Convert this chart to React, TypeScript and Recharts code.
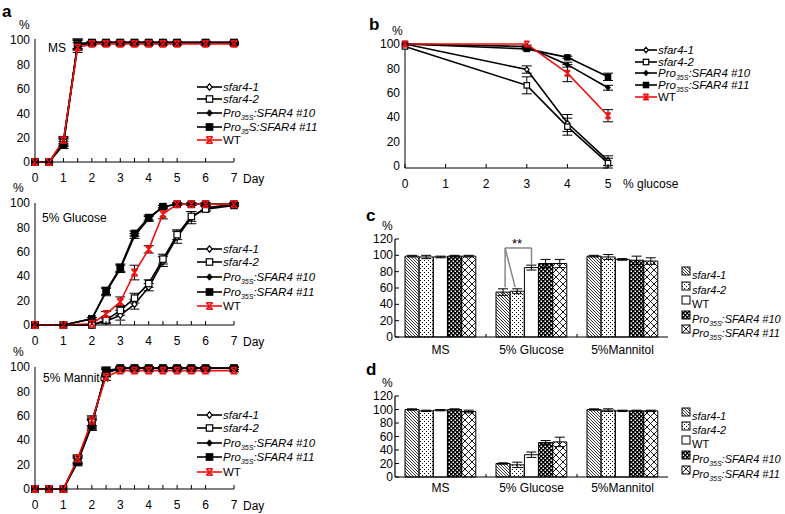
import React from 'react';
import { LineChart, Line, XAxis, YAxis, ErrorBar, BarChart, Bar, Cell, ReferenceLine, ReferenceDot } from 'recharts';

const FONT = '"Liberation Sans", Arial, Helvetica, sans-serif';
const RED = '#f01010';

// a: germination time course on MS
const msDays = [0, 0.5, 1, 1.5, 2, 2.5, 3, 3.5, 4, 4.5, 5, 6, 7];
const msSfar1 = [0, 0, 17, 97, 98, 98, 98, 98, 98, 98, 98, 98, 98];
const msSfar2 = [0, 0, 16, 97, 98, 98, 98, 98, 98, 98, 98, 98, 98];
const msPro10 = [0, 0, 16, 96, 98, 98, 98, 98, 98, 98, 98, 98, 98];
const msPro11 = [0, 0, 14, 96, 98, 98, 98, 98, 98, 98, 98, 98, 98];
const msWT = [0, 0, 18, 94, 97, 97, 97, 97, 97, 97, 97, 97, 97];
const msErr = [0, 0, 3, 4, 1, 1, 1, 1, 1, 1, 1, 1, 1];

// a: 5% glucose
const glDays = [0, 1, 2, 2.5, 3, 3.5, 4, 4.5, 5, 5.5, 6, 7];
const glSfar1 = [0, 0, 0, 3, 8, 17, 31, 52, 72, 88, 96, 99];
const glSfar1Err = [0, 0, 0, 2, 4, 4, 3, 4, 5, 5, 2, 1];
const glSfar2 = [0, 0, 0, 4, 12, 22, 34, 54, 74, 89, 95, 98];
const glSfar2Err = [0, 0, 0, 2, 4, 4, 3, 4, 4, 4, 2, 1];
const glPro10 = [0, 0, 5, 27, 46, 73, 87, 97, 99, 99, 99, 99];
const glPro10Err = [0, 0, 1, 3, 3, 2, 2, 1, 1, 1, 1, 1];
const glPro11 = [0, 0, 5, 28, 47, 75, 88, 97, 99, 99, 99, 99];
const glPro11Err = [0, 0, 1, 3, 3, 2, 2, 1, 1, 1, 1, 1];
const glWT = [0, 0, 1, 9, 19, 43, 62, 91, 99, 99, 99, 99];
const glWTErr = [0, 0, 0, 2, 4, 6, 3, 4, 1, 1, 1, 1];

// a: 5% mannitol
const mnDays = [0, 0.5, 1, 1.5, 2, 2.5, 3, 3.5, 4, 4.5, 5, 5.5, 6, 7];
const mnSfar1 = [0, 0, 0, 24, 54, 95, 99, 99, 99, 99, 99, 99, 99, 99];
const mnSfar2 = [0, 0, 0, 24, 55, 95, 99, 99, 99, 99, 99, 99, 99, 99];
const mnPro10 = [0, 0, 0, 23, 53, 96, 99, 99, 99, 99, 99, 99, 99, 99];
const mnPro11 = [0, 0, 0, 22, 52, 97, 99, 99, 99, 99, 99, 99, 99, 99];
const mnWT = [0, 0, 0, 25, 56, 92, 97, 97, 97, 97, 97, 97, 97, 97];
const mnErr = [0, 0, 0, 3, 4, 3, 1, 1, 1, 1, 1, 1, 1, 1];

// b: glucose dose response
const gcConc = [0, 3, 4, 5];
const gcSfar1 = [100, 79, 35, 4];
const gcSfar1Err = [0, 3, 7, 4];
const gcSfar2 = [98, 66, 32, 2];
const gcSfar2Err = [0, 7, 7, 4];
const gcPro10 = [100, 98, 83, 64];
const gcPro10Err = [0, 1, 2, 2];
const gcPro11 = [100, 96, 89, 73];
const gcPro11Err = [0, 1, 1, 3];
const gcWT = [100, 100, 76, 41];
const gcWTErr = [0, 0, 7, 5];

// c, d: bar charts (order inside a group: sfar4-1, sfar4-2, WT, #10, #11)
const conditions = ['MS', '5% Glucose', '5%Mannitol'];
const cSfar1 = [99, 55, 99];
const cSfar1Err = [1, 4, 1];
const cSfar2 = [98, 56, 98];
const cSfar2Err = [2, 3, 3];
const cWT = [98, 85, 95];
const cWTErr = [1, 3, 1];
const cPro10 = [99, 90, 94];
const cPro10Err = [1, 5, 5];
const cPro11 = [99, 90, 93];
const cPro11Err = [1, 5, 4];

const dSfar1 = [100, 20, 100];
const dSfar1Err = [1, 1, 1];
const dSfar2 = [98, 18, 99];
const dSfar2Err = [1, 4, 2];
const dWT = [99, 33, 98];
const dWTErr = [1, 4, 1];
const dPro10 = [100, 51, 98];
const dPro10Err = [1, 3, 1];
const dPro11 = [97, 52, 98];
const dPro11Err = [2, 7, 1];

type Row = Record<string, number | string>;
function buildRows(xs: number[], series: [string, number[], number[]][]): Row[] {
  return xs.map((x, i) => {
    const r: Row = { x };
    series.forEach(([k, v, e]) => {
      r[k] = v[i];
      r[k + 'Err'] = e[i];
    });
    return r;
  });
}

// each bar sits in its slot of the condition group (slot width in category units)
const SLOT = 0.156;
function barRows(vals: number[][], errs: number[][]) {
  return conditions.flatMap((_, i) => vals.map((v, j) => ({ x: i + (j - 2) * SLOT, v: v[i], e: errs[j][i], g: j })));
}

const msData = buildRows(msDays, [['s1', msSfar1, msErr], ['s2', msSfar2, msErr], ['p10', msPro10, msErr], ['p11', msPro11, msErr], ['wt', msWT, msErr]]);
const glData = buildRows(glDays, [['s1', glSfar1, glSfar1Err], ['s2', glSfar2, glSfar2Err], ['p10', glPro10, glPro10Err], ['p11', glPro11, glPro11Err], ['wt', glWT, glWTErr]]);
const mnData = buildRows(mnDays, [['s1', mnSfar1, mnErr], ['s2', mnSfar2, mnErr], ['p10', mnPro10, mnErr], ['p11', mnPro11, mnErr], ['wt', mnWT, mnErr]]);
const gcData = buildRows(gcConc, [['s1', gcSfar1, gcSfar1Err], ['s2', gcSfar2, gcSfar2Err], ['p10', gcPro10, gcPro10Err], ['p11', gcPro11, gcPro11Err], ['wt', gcWT, gcWTErr]]);
const cData = barRows([cSfar1, cSfar2, cWT, cPro10, cPro11], [cSfar1Err, cSfar2Err, cWTErr, cPro10Err, cPro11Err]);
const dData = barRows([dSfar1, dSfar2, dWT, dPro10, dPro11], [dSfar1Err, dSfar2Err, dWTErr, dPro10Err, dPro11Err]);

const LINES = [
  { key: 's1', shape: 'openDiamond', color: '#000' },
  { key: 's2', shape: 'openSquare', color: '#000' },
  { key: 'p10', shape: 'diamond', color: '#000' },
  { key: 'p11', shape: 'square', color: '#000' },
  { key: 'wt', shape: 'cross', color: RED },
];

const BAR_FILLS = ['url(#pHatch)', 'url(#pDots)', '#fff', 'url(#pCheck)', 'url(#pCross)'];

function drawMarker(shape: string, color: string, cx: number, cy: number, k: string, s = 1) {
  const h = 3.2 * s;
  switch (shape) {
    case 'openDiamond':
      return <path key={k} d={`M${cx},${cy - h}L${cx + h * 0.85},${cy}L${cx},${cy + h}L${cx - h * 0.85},${cy}Z`} fill="#fff" stroke={color} strokeWidth={1.2} />;
    case 'openSquare':
      return <rect key={k} x={cx - h} y={cy - h} width={2 * h} height={2 * h} fill="#fff" stroke={color} strokeWidth={1.2} />;
    case 'diamond':
      return <path key={k} d={`M${cx},${cy - h}L${cx + h * 0.85},${cy}L${cx},${cy + h}L${cx - h * 0.85},${cy}Z`} fill={color} stroke={color} strokeWidth={1} />;
    case 'square': {
      const q = h * 1.2;
      return <rect key={k} x={cx - q} y={cy - q} width={2 * q} height={2 * q} fill={color} />;
    }
    default:
      return (
        <path
          key={k}
          d={`M${cx - h},${cy - h}L${cx + h},${cy + h}M${cx + h},${cy - h}L${cx - h},${cy + h}M${cx - h},${cy - h}H${cx + h}M${cx - h},${cy + h}H${cx + h}`}
          stroke={color}
          strokeWidth={1.5}
          fill="none"
        />
      );
  }
}

const dotFor = (shape: string, color: string, s = 1) => (p: any) => {
  const k = `${shape}-${p.index}`;
  if (p.cx == null || p.cy == null) return <g key={k} />;
  return drawMarker(shape, color, p.cx, p.cy, k, s);
};

const NumTick = (p: any) => {
  const { x, y, payload, dy } = p;
  const v = payload.value;
  return (
    <g>
      <line x1={x} x2={x} y1={y} y2={y - 4} stroke="#000" />
      {Number.isInteger(v) && (
        <text x={x} y={y + dy} textAnchor="middle" fontSize={12} fill="#000">
          {v}
        </text>
      )}
    </g>
  );
};

const CondTick = (p: any) => {
  const { x, y, payload, dy } = p;
  const v = payload.value;
  if (!Number.isInteger(v)) return <line x1={x} x2={x} y1={y} y2={y - 3} stroke="#000" />;
  return (
    <text x={x} y={y + dy} textAnchor="middle" fontSize={12} fill="#000">
      {conditions[v]}
    </text>
  );
};

const InTickY = (p: any) => {
  const { x, y, payload } = p;
  return (
    <g>
      <line x1={x} x2={x + 4} y1={y} y2={y} stroke="#000" />
      <text x={x - 2} y={y + 4} textAnchor="end" fontSize={12} fill="#000">
        {payload.value}
      </text>
    </g>
  );
};

function CurveChart({ data, left, top, width, height, marginTop, marginRight, xMax, ticks, s }: any) {
  return (
    <div style={{ position: 'absolute', left, top }}>
      <LineChart width={width} height={height + 6} data={data} margin={{ top: marginTop, right: marginRight, left: 0, bottom: 6 }}>
        <XAxis dataKey="x" type="number" domain={[0, xMax]} ticks={ticks} interval={0} tick={<NumTick dy={20} />} tickLine={false} tickSize={0} tickMargin={0} height={20} axisLine={{ stroke: '#000' }} />
        <YAxis domain={[0, 100]} ticks={[0, 20, 40, 60, 80, 100]} interval={0} width={35} tickLine={false} tickSize={0} tickMargin={5} axisLine={{ stroke: '#000' }} tick={{ fill: '#000', fontSize: 12 }} />
        {LINES.map((l) => (
          <Line key={l.key} dataKey={l.key} stroke={l.color} strokeWidth={1.6} dot={dotFor(l.shape, l.color, s)} activeDot={false} isAnimationActive={false}>
            <ErrorBar dataKey={l.key + 'Err'} width={5} stroke="#000" strokeWidth={1} direction="y" />
          </Line>
        ))}
      </LineChart>
    </div>
  );
}

function BarPanel({ data, top, plotH, dy, bracket }: any) {
  return (
    <div style={{ position: 'absolute', left: 360, top }}>
      <BarChart width={310} height={39 + plotH + 26} data={data} margin={{ top: 39, right: 2, left: 0, bottom: 6 }} barSize={14} barGap={0}>
        <XAxis dataKey="x" type="number" domain={[-0.5, 2.5]} allowDataOverflow padding={{ left: 0, right: 0 }} ticks={[0, 0.5, 1, 1.5, 2]} interval={0} tick={<CondTick dy={dy} />} tickLine={false} tickSize={0} tickMargin={0} height={20} axisLine={{ stroke: '#000' }} />
        <YAxis domain={[0, 120]} ticks={[0, 20, 40, 60, 80, 100, 120]} interval={0} width={35} tickSize={0} tickMargin={0} tickLine={false} axisLine={{ stroke: '#000', strokeWidth: 1.2 }} tick={<InTickY />} />
        <Bar dataKey="v" stroke="#000" strokeWidth={1} isAnimationActive={false}>
          {data.map((r: any, i: number) => (
            <Cell key={i} fill={BAR_FILLS[r.g]} />
          ))}
          <ErrorBar dataKey="e" width={5} stroke="#000" strokeWidth={1} direction="y" />
        </Bar>
        {bracket && <ReferenceLine segment={[{ x: 0.71, y: 109 }, { x: 1.0, y: 109 }]} stroke="#888" strokeWidth={1.5} />}
        {bracket && <ReferenceLine segment={[{ x: 0.71, y: 109 }, { x: 0.71, y: 61 }]} stroke="#888" strokeWidth={1.5} />}
        {bracket && <ReferenceLine segment={[{ x: 0.71, y: 109 }, { x: 0.82, y: 61 }]} stroke="#888" strokeWidth={1.5} />}
        {bracket && <ReferenceLine segment={[{ x: 1.0, y: 109 }, { x: 1.0, y: 89 }]} stroke="#888" strokeWidth={1.5} />}
        {bracket && <ReferenceDot x={0.84} y={115} r={0} fill="none" stroke="none" label={{ value: '**', position: 'center', fontSize: 13, fill: '#000' }} />}
      </BarChart>
    </div>
  );
}

function ProText({ x, y, n, alt, fs }: any) {
  return (
    <text x={x} y={y} fontSize={fs} fontStyle="italic" fill="#000">
      Pro
      <tspan fontSize={7} dy={3}>
        {alt ? '35' : '35S'}
      </tspan>
      <tspan dy={-3}>{alt ? `S:SFAR4 #${n}` : `:SFAR4 #${n}`}</tspan>
    </text>
  );
}

function LineLegend({ x0, ys, len, alt, s }: any) {
  const tx = x0 + len + 1;
  const fs = 11.5;
  const texts = [
    <text x={tx} y={ys[0] + 4} fontSize={fs} fontStyle="italic">sfar4-1</text>,
    <text x={tx} y={ys[1] + 4} fontSize={fs} fontStyle="italic">sfar4-2</text>,
    <ProText x={tx} y={ys[2] + 4} n={10} fs={fs} />,
    <ProText x={tx} y={ys[3] + 4} n={11} alt={alt} fs={fs} />,
    <text x={tx} y={ys[4] + 4} fontSize={fs}>WT</text>,
  ];
  return (
    <g>
      {LINES.map((l, i) => (
        <g key={l.key}>
          <line x1={x0} x2={x0 + len} y1={ys[i]} y2={ys[i]} stroke={l.color} strokeWidth={1.6} />
          {drawMarker(l.shape, l.color, x0 + len / 2, ys[i], 'm' + i, s)}
          {texts[i]}
        </g>
      ))}
    </g>
  );
}

function BarLegend({ x0, ys }: any) {
  const tx = x0 + 10;
  const fs = 11;
  const texts = [
    <text x={tx} y={ys[0] + 8} fontSize={fs} fontStyle="italic">sfar4-1</text>,
    <text x={tx} y={ys[1] + 8} fontSize={fs} fontStyle="italic">sfar4-2</text>,
    <text x={tx} y={ys[2] + 8} fontSize={fs}>WT</text>,
    <ProText x={tx} y={ys[3] + 8} n={10} fs={fs} />,
    <ProText x={tx} y={ys[4] + 8} n={11} fs={fs} />,
  ];
  return (
    <g>
      {BAR_FILLS.map((f, i) => (
        <g key={i}>
          <rect x={x0} y={ys[i] - 4} width={8} height={8} fill={f} stroke="#000" strokeWidth={1} />
          {texts[i]}
        </g>
      ))}
    </g>
  );
}

export default function App() {
  return (
    <div style={{ position: 'absolute', left: 0, top: 0, width: 785, height: 514, background: '#fff', fontFamily: FONT, overflow: 'hidden' }}>
      <svg width={785} height={514} style={{ position: 'absolute', left: 0, top: 0 }} fontFamily={FONT} fill="#000">
        <defs>
          <pattern id="pHatch" width="3" height="3" patternUnits="userSpaceOnUse">
            <rect width="3" height="3" fill="#fff" />
            <path d="M0,0L3,3M-1,2L1,4M2,-1L4,1" stroke="#000" strokeWidth="0.8" />
          </pattern>
          <pattern id="pDots" width="4" height="4" patternUnits="userSpaceOnUse">
            <rect width="4" height="4" fill="#fff" />
            <rect x="0" y="0" width="1" height="1" fill="#000" />
            <rect x="2" y="2" width="1" height="1" fill="#000" />
          </pattern>
          <pattern id="pCheck" width="4" height="4" patternUnits="userSpaceOnUse">
            <rect width="4" height="4" fill="#000" />
            <rect x="0.5" y="0.5" width="1.5" height="1.5" fill="#fff" />
            <rect x="2.5" y="2.5" width="1.5" height="1.5" fill="#fff" />
          </pattern>
          <pattern id="pCross" width="7" height="7" patternUnits="userSpaceOnUse">
            <rect width="7" height="7" fill="#fff" />
            <path d="M0,0L7,7M7,0L0,7" stroke="#000" strokeWidth="0.9" />
          </pattern>
        </defs>
        <g fontWeight="bold" fontSize={17}>
          <text x={2} y={17}>a</text>
          <text x={369} y={30}>b</text>
          <text x={366} y={221}>c</text>
          <text x={366} y={375}>d</text>
        </g>
        <g fontSize={12}>
          <text x={19} y={29}>%</text>
          <text x={13} y={192}>%</text>
          <text x={13} y={356}>%</text>
          <text x={392} y={35}>%</text>
          <text x={382} y={230}>%</text>
          <text x={382} y={387}>%</text>
          <text x={243} y={183}>Day</text>
          <text x={243} y={346}>Day</text>
          <text x={243} y={510}>Day</text>
          <text x={623} y={188}>% glucose</text>
          <text x={48} y={52}>MS</text>
          <text x={42} y={222}>5% Glucose</text>
          <text x={43} y={382}>5% Mannitol</text>
        </g>
        <LineLegend x0={197} ys={[87, 99, 113, 127, 140]} len={25} alt s={1} />
        <LineLegend x0={197} ys={[249, 262, 277, 292, 306]} len={25} s={1} />
        <LineLegend x0={197} ys={[415, 428, 443, 457, 472]} len={25} s={1} />
        <LineLegend x0={635} ys={[50, 62, 73, 85, 97]} len={22} s={0.85} />
        <BarLegend x0={682} ys={[271, 286, 300, 315, 329]} />
        <BarLegend x0={682} ys={[412, 426, 440, 455, 470]} />
      </svg>

      <CurveChart data={msData} left={0} top={0} width={250} height={182} marginTop={39} marginRight={16} xMax={7} ticks={msDays} s={1} />
      <CurveChart data={glData} left={0} top={163} width={250} height={182} marginTop={40} marginRight={16} xMax={7} ticks={glDays} s={1} />
      <CurveChart data={mnData} left={0} top={327} width={250} height={182} marginTop={40} marginRight={16} xMax={7} ticks={mnDays} s={1} />
      <CurveChart data={gcData} left={370} top={0} width={250} height={188} marginTop={44} marginRight={12} xMax={5} ticks={[0, 1, 2, 3, 4, 5]} s={0.85} />

      <BarPanel data={cData} top={200} plotH={98} dy={17} bracket />
      <BarPanel data={dData} top={357} plotH={81} dy={15} />
    </div>
  );
}
